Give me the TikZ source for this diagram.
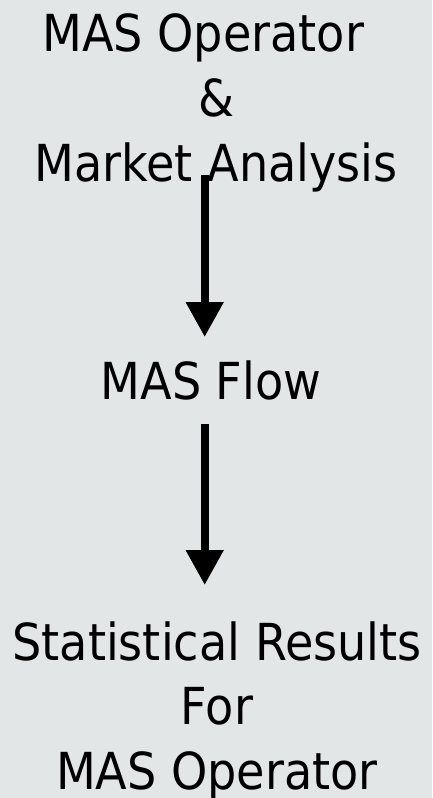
\documentclass[tikz,border=0pt]{standalone}
\usepackage{fontspec}
\setmainfont[FakeStretch=0.905]{DejaVu Sans}
\usetikzlibrary{arrows.meta}
\definecolor{slide}{RGB}{227,230,230}

\begin{document}
\begin{tikzpicture}[x=1bp,y=-1bp,
    label/.style={inner sep=0pt,anchor=base,align=center,
        font=\fontsize{51bp}{64.5bp}\selectfont},
    flowarrow/.style={line width=8bp,-{Triangle[width=36bp,length=35bp]}}]
        %% slide background
        \fill[slide] (0,0) rectangle (432,798);
        \useasboundingbox (0,0) rectangle (432,798);
        %% blocks (base = last line)
        \node[label] (src) at (216,181) {MAS Operator\hspace*{0.5em}\\ \&\\ Market Analysis};
        \node[label] (flow) at (211,399) {MAS Flow};
        \node[label] (res) at (217,789) {Statistical Results\\ For\\ MAS Operator};
        %% arrows
        \draw[flowarrow] ([shift={(-11.3,-6)}]src.base) -- ([shift={(-6.3,-62)}]flow.base);
        \draw[flowarrow] ([shift={(-6.3,25)}]flow.base) -- ([shift={(-12.3,-204)}]res.base);
    \end{tikzpicture}
\end{document}
